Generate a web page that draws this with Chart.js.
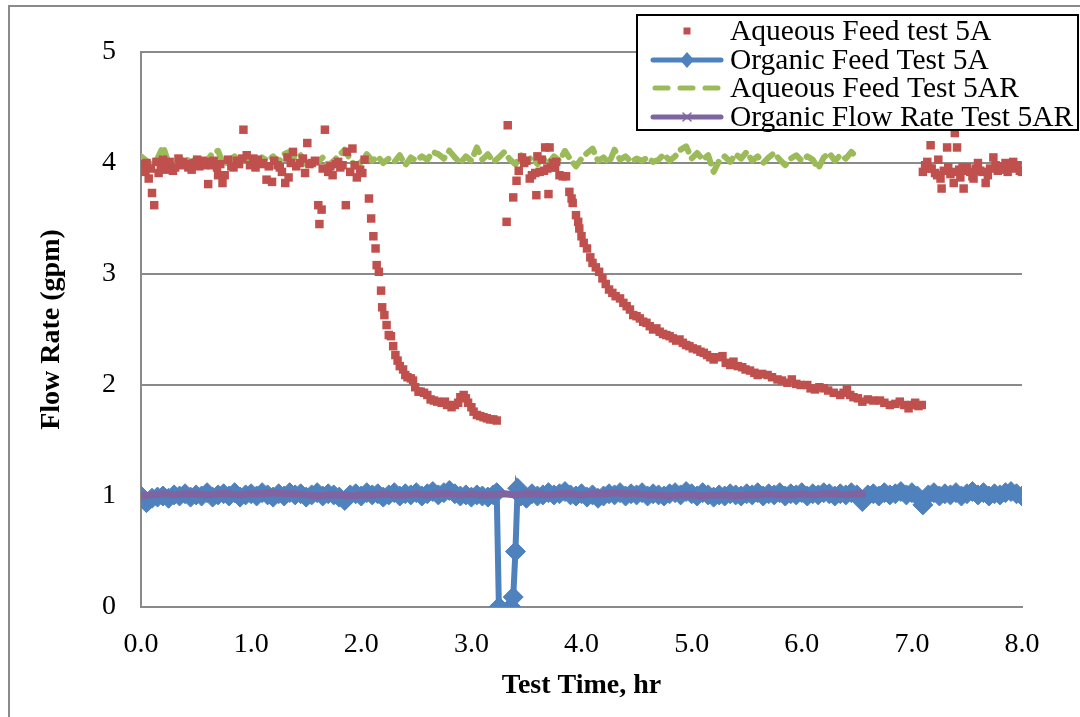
<!DOCTYPE html>
<html>
<head>
<meta charset="utf-8">
<script src="https://cdn.jsdelivr.net/npm/chart.js@4.4.1/dist/chart.umd.min.js"></script>
<style>
    html, body { margin: 0; padding: 0; background: #fff; overflow: hidden; }
    #frame {
        position: absolute; left: 8px; top: 5px; width: 1200px; height: 800px;
        border-left: 2px solid #8a8a8a; border-top: 2px solid #8a8a8a;
    }
    #chart { position: absolute; left: 0; top: 0; }
</style>
</head>
<body>
<div id="frame"></div>
<canvas id="chart" width="1080" height="717"></canvas>
<script>
// Aqueous Feed test 5A (red squares)
const aqTimeA = [
    0.00, 0.02, 0.04, 0.05, 0.07, 0.09, 0.10, 0.12, 0.14, 0.16, 0.18, 0.20, 0.22, 0.24, 0.26, 0.29, 0.31, 0.34, 0.36, 0.38,
    0.41, 0.43, 0.46, 0.48, 0.51, 0.53, 0.56, 0.58, 0.60, 0.61, 0.64, 0.66, 0.69, 0.70, 0.72, 0.74, 0.76, 0.79, 0.82, 0.84,
    0.87, 0.89, 0.92, 0.93, 0.96, 0.99, 1.02, 1.04, 1.06, 1.09, 1.11, 1.14, 1.16, 1.19, 1.21, 1.24, 1.26, 1.28, 1.31, 1.33,
    1.34, 1.36, 1.38, 1.41, 1.44, 1.47, 1.49, 1.51, 1.53, 1.55, 1.58, 1.61, 1.62, 1.64, 1.65, 1.67, 1.70, 1.72, 1.74, 1.77,
    1.79, 1.81, 1.83, 1.86, 1.87, 1.90, 1.92, 1.94, 1.96, 1.99, 2.01, 2.03,
    2.07, 2.09, 2.11, 2.13, 2.14, 2.16, 2.18, 2.19, 2.21, 2.23, 2.25, 2.27, 2.29, 2.31, 2.33, 2.35, 2.38, 2.40, 2.42, 2.45,
    2.47, 2.49, 2.52, 2.54, 2.57, 2.60, 2.63, 2.66, 2.69, 2.73, 2.76, 2.78, 2.82, 2.85, 2.88, 2.90, 2.93, 2.95, 2.97, 3.00,
    3.02, 3.05, 3.08, 3.11, 3.14, 3.17, 3.20, 3.23,
    3.32, 3.33, 3.38, 3.41, 3.43, 3.46, 3.48, 3.50, 3.53, 3.55, 3.58, 3.59, 3.60, 3.62, 3.64, 3.66, 3.67, 3.69, 3.70, 3.71,
    3.72, 3.74, 3.76, 3.77, 3.80, 3.83, 3.86,
    3.89, 3.91, 3.92, 3.95, 3.97, 3.98, 4.00, 4.02, 4.05, 4.08, 4.10, 4.13, 4.16, 4.19, 4.22, 4.25, 4.28, 4.31, 4.35, 4.38,
    4.41, 4.44, 4.47, 4.50, 4.53, 4.56, 4.59, 4.62, 4.65, 4.68, 4.71, 4.74, 4.77, 4.80, 4.83, 4.86, 4.89, 4.92, 4.95, 4.98,
    5.01, 5.05, 5.08, 5.11, 5.14, 5.17, 5.20, 5.24, 5.28, 5.31, 5.35, 5.38, 5.42, 5.46, 5.49, 5.53, 5.57, 5.60, 5.64, 5.69,
    5.73, 5.78, 5.82, 5.87, 5.91, 5.95, 5.99, 6.05, 6.08, 6.12, 6.16, 6.20, 6.24, 6.29, 6.35, 6.38, 6.41, 6.44, 6.47, 6.51,
    6.55, 6.60, 6.65, 6.71, 6.75, 6.80, 6.85, 6.89, 6.93, 6.97, 7.00, 7.03, 7.06, 7.09,
    7.10, 7.12, 7.14, 7.16, 7.17, 7.18, 7.21, 7.23, 7.24, 7.26, 7.27, 7.29, 7.32, 7.33, 7.35, 7.37, 7.38, 7.39, 7.41, 7.43,
    7.44, 7.46, 7.47, 7.49, 7.50, 7.53, 7.55, 7.56, 7.58, 7.60, 7.62, 7.64, 7.67, 7.69, 7.71, 7.74, 7.76, 7.78, 7.80, 7.83,
    7.85, 7.87, 7.90, 7.92, 7.94, 7.96, 7.98, 8.00
];
const aqFlowA = [
    3.97, 3.99, 3.92, 4.00, 3.86, 3.95, 3.73, 3.62, 4.01, 3.91, 3.96, 4.03, 3.94, 3.99, 4.01, 3.93, 3.96, 4.04, 3.98, 4.01,
    3.99, 3.96, 3.94, 4.00, 4.03, 3.97, 4.02, 3.98, 4.01, 3.81, 3.98, 4.02, 3.96, 3.89, 3.99, 3.82, 3.89, 4.03, 3.97, 3.96,
    4.02, 3.99, 4.04, 4.30, 4.07, 3.98, 4.04, 3.96, 4.03, 3.99, 4.00, 3.85, 3.97, 3.83, 4.02, 3.98, 3.96, 3.92, 3.82, 4.05,
    3.87, 4.00, 4.10, 3.97, 4.00, 4.04, 3.91, 4.18, 3.99, 4.00, 4.02, 3.62, 3.45, 3.58, 3.95, 4.30, 3.92, 3.97, 3.89, 3.99,
    4.01, 3.96, 3.98, 3.62, 4.10, 3.92, 4.13, 3.98, 3.87, 3.94, 3.91, 4.03,
    3.68, 3.50, 3.34, 3.23, 3.08, 3.02, 2.85, 2.70, 2.63, 2.54, 2.45, 2.44, 2.35, 2.27, 2.22, 2.17, 2.14, 2.09, 2.07, 2.06,
    2.04, 1.98, 1.94, 1.94, 1.93, 1.91, 1.87, 1.86, 1.85, 1.84, 1.85, 1.82, 1.80, 1.82, 1.84, 1.89, 1.91, 1.88, 1.84, 1.80,
    1.76, 1.73, 1.72, 1.71, 1.70, 1.69, 1.69, 1.68,
    3.47, 4.34, 3.69, 3.84, 3.93, 4.05, 4.00, 4.02, 3.86, 3.89, 3.91, 3.71, 4.06, 3.92, 4.03, 3.93, 4.14, 3.95, 3.72, 4.14,
    3.96, 4.00, 3.96, 4.01, 3.89, 3.88, 3.88,
    3.74, 3.68, 3.64, 3.53, 3.47, 3.41, 3.34, 3.28, 3.23, 3.15, 3.10, 3.06, 3.02, 2.96, 2.91, 2.86, 2.83, 2.80, 2.78, 2.74,
    2.71, 2.68, 2.63, 2.62, 2.60, 2.57, 2.56, 2.53, 2.50, 2.51, 2.48, 2.46, 2.45, 2.44, 2.42, 2.40, 2.41, 2.38, 2.36, 2.35,
    2.33, 2.32, 2.30, 2.29, 2.27, 2.25, 2.23, 2.25, 2.26, 2.20, 2.18, 2.21, 2.17, 2.16, 2.14, 2.13, 2.11, 2.09, 2.10, 2.09,
    2.07, 2.05, 2.04, 2.02, 2.05, 2.01, 2.00, 2.00, 1.97, 1.96, 1.98, 1.97, 1.95, 1.93, 1.91, 1.93, 1.96, 1.91, 1.89, 1.88,
    1.85, 1.87, 1.86, 1.86, 1.84, 1.82, 1.83, 1.85, 1.82, 1.79, 1.82, 1.84, 1.81, 1.82,
    3.92, 3.98, 4.01, 3.95, 4.16, 3.95, 3.91, 3.89, 4.03, 3.86, 3.77, 3.93, 4.14, 3.96, 3.90, 3.92, 3.82, 4.27, 4.14, 3.94,
    3.87, 3.96, 3.77, 3.93, 3.96, 3.92, 3.88, 3.86, 3.95, 4.00, 3.93, 3.92, 3.82, 3.89, 3.95, 4.05, 3.98, 3.93, 3.94, 3.97,
    4.00, 3.92, 3.96, 4.01, 3.95, 3.98, 3.93, 3.92
];

// Organic Feed Test 5A (blue diamonds)
const orgTimeA = [
    0.00, 0.05, 0.10, 0.15, 0.20, 0.25, 0.30, 0.35, 0.40, 0.45, 0.50, 0.55, 0.60, 0.65, 0.70, 0.75, 0.80, 0.85, 0.90, 0.95,
    1.00, 1.05, 1.10, 1.15, 1.20, 1.25, 1.30, 1.35, 1.40, 1.45, 1.50, 1.55, 1.60, 1.65, 1.70, 1.75, 1.80, 1.85, 1.90, 1.95,
    2.00, 2.05, 2.10, 2.15, 2.20, 2.25, 2.30, 2.35, 2.40, 2.45, 2.50, 2.55, 2.60, 2.65, 2.70, 2.75, 2.80, 2.85, 2.90, 2.95,
    3.00, 3.05, 3.10, 3.15, 3.20, 3.23, 3.25, 3.36, 3.38, 3.40, 3.42, 3.45, 3.50, 3.55, 3.60, 3.65, 3.70, 3.75, 3.80, 3.85,
    3.90, 3.95, 4.00, 4.05, 4.10, 4.15, 4.20, 4.25, 4.30, 4.35, 4.40, 4.45, 4.50, 4.55, 4.60, 4.65, 4.70, 4.75, 4.80, 4.85,
    4.90, 4.95, 5.00, 5.05, 5.10, 5.15, 5.20, 5.25, 5.30, 5.35, 5.40, 5.45, 5.50, 5.55, 5.60, 5.65, 5.70, 5.75, 5.80, 5.85,
    5.90, 5.95, 6.00, 6.05, 6.10, 6.15, 6.20, 6.25, 6.30, 6.35, 6.40, 6.45, 6.50, 6.55, 6.60, 6.65, 6.70, 6.75, 6.80, 6.85,
    6.90, 6.95, 7.00, 7.05, 7.10, 7.15, 7.20, 7.25, 7.30, 7.35, 7.40, 7.45, 7.50, 7.55, 7.60, 7.65, 7.70, 7.75, 7.80, 7.85,
    7.90, 7.95, 8.00
];
const orgFlowA = [
    1.00, 0.94, 0.98, 0.99, 1.00, 0.98, 1.01, 1.00, 1.02, 0.99, 1.01, 1.00, 1.03, 0.99, 1.01, 1.02, 1.00, 1.03, 0.99, 1.01,
    1.02, 1.00, 1.03, 1.01, 0.99, 1.02, 1.00, 1.03, 1.01, 1.02, 0.99, 1.01, 1.03, 1.00, 1.02, 1.01, 0.99, 0.96, 1.01, 1.02,
    1.00, 1.03, 1.01, 1.02, 0.99, 1.01, 1.03, 1.00, 1.02, 1.01, 1.03, 1.00, 1.02, 1.04, 1.01, 1.03, 1.05, 1.02, 1.00, 1.01,
    0.99, 1.01, 1.00, 0.99, 1.01, 1.03, 0.00, 0.00, 0.09, 0.50, 1.07, 1.00, 0.98, 1.02, 1.00, 1.01, 1.03, 1.01, 1.02, 1.04,
    1.01, 1.00, 1.02, 0.99, 1.01, 0.98, 1.00, 1.02, 1.01, 1.03, 1.00, 1.02, 1.01, 1.03, 1.00, 1.02, 1.01, 1.00, 1.02, 1.03,
    1.01, 1.04, 1.02, 1.00, 1.03, 1.01, 0.99, 1.01, 1.00, 1.02, 1.01, 1.00, 1.02, 1.01, 1.03, 1.00, 1.02, 1.01, 1.03, 1.00,
    1.02, 1.01, 1.03, 1.00, 1.02, 1.01, 1.03, 1.02, 1.00, 1.02, 1.01, 1.03, 1.01, 0.95, 1.01, 1.02, 1.00, 1.03, 1.01, 1.02,
    1.04, 1.01, 1.03, 1.00, 0.92, 1.01, 1.03, 1.00, 1.02, 1.01, 1.03, 1.00, 1.02, 1.04, 1.01, 1.03, 1.00, 1.02, 1.01, 1.03,
    1.04, 1.02, 1.00
];

// Aqueous Feed Test 5AR (green dashed)
const aqTimeAR = [
    0.00, 0.05, 0.10, 0.15, 0.20, 0.25, 0.30, 0.35, 0.40, 0.45, 0.50, 0.55, 0.60, 0.65, 0.70, 0.75, 0.80, 0.85, 0.90, 0.95,
    1.00, 1.05, 1.10, 1.15, 1.20, 1.25, 1.30, 1.35, 1.40, 1.45, 1.50, 1.55, 1.60, 1.65, 1.70, 1.75, 1.80, 1.85, 1.90, 1.95,
    2.00, 2.05, 2.10, 2.15, 2.20, 2.25, 2.30, 2.35, 2.40, 2.45, 2.50, 2.55, 2.60, 2.65, 2.70, 2.75, 2.80, 2.85, 2.90, 2.95,
    3.00, 3.05, 3.10, 3.15, 3.20, 3.25, 3.30, 3.35, 3.40, 3.45, 3.50, 3.55, 3.60, 3.65, 3.70, 3.75, 3.80, 3.85, 3.90, 3.95,
    4.00, 4.05, 4.10, 4.15, 4.20, 4.25, 4.30, 4.35, 4.40, 4.45, 4.50, 4.55, 4.60, 4.65, 4.70, 4.75, 4.80, 4.85, 4.90, 4.95,
    5.00, 5.05, 5.10, 5.15, 5.20, 5.25, 5.30, 5.35, 5.40, 5.45, 5.50, 5.55, 5.60, 5.65, 5.70, 5.75, 5.80, 5.85, 5.90, 5.95,
    6.00, 6.05, 6.10, 6.15, 6.20, 6.25, 6.30, 6.35, 6.40, 6.45, 6.50
];
const aqFlowAR = [
    4.06, 4.02, 3.98, 4.04, 4.15, 4.00, 3.96, 4.03, 4.05, 4.00, 4.04, 3.99, 4.02, 4.09, 4.11, 3.98, 4.02, 4.06, 4.00, 4.04,
    4.01, 3.98, 4.05, 4.02, 4.06, 4.01, 4.08, 4.10, 4.04, 4.07, 3.99, 4.03, 4.00, 4.05, 3.98, 4.02, 4.07, 4.12, 4.03, 3.97,
    4.01, 4.08, 4.02, 4.06, 4.00, 4.04, 4.01, 4.07, 3.98, 4.05, 4.02, 4.06, 4.03, 4.10, 4.08, 4.04, 4.11, 4.05, 4.00, 4.06,
    4.02, 4.14, 4.03, 4.08, 4.01, 4.05, 4.10, 4.03, 3.99, 4.07, 4.02, 4.05, 3.99, 4.04, 4.00, 4.06, 4.02, 4.11, 4.03, 3.97,
    4.04, 4.09, 4.13, 4.02, 4.05, 4.00, 4.12, 4.03, 4.06, 4.01, 4.04, 4.02, 4.05, 4.01, 4.03, 4.08, 4.02, 4.06, 4.12, 4.15,
    4.04, 4.09, 4.03, 4.07, 3.92, 4.02, 4.06, 4.01, 4.08, 4.04, 4.10, 4.02, 4.06, 4.00, 4.05, 4.09, 4.03, 3.98, 4.04, 4.07,
    4.02, 4.06, 4.03, 3.95, 4.05, 4.09, 4.02, 4.07, 4.04, 4.10, 4.05
];

// Organic Flow Rate Test 5AR (purple)
const orgTimeAR = [
    0.0, 0.1, 0.2, 0.3, 0.4, 0.5, 0.6, 0.7, 0.8, 0.9, 1.0, 1.1, 1.2, 1.3, 1.4, 1.5, 1.6, 1.7, 1.8, 1.9,
    2.0, 2.1, 2.2, 2.3, 2.4, 2.5, 2.6, 2.7, 2.8, 2.9, 3.0, 3.1, 3.2, 3.3, 3.4, 3.5, 3.6, 3.7, 3.8, 3.9,
    4.0, 4.1, 4.2, 4.3, 4.4, 4.5, 4.6, 4.7, 4.8, 4.9, 5.0, 5.1, 5.2, 5.3, 5.4, 5.5, 5.6, 5.7, 5.8, 5.9,
    6.0, 6.1, 6.2, 6.3, 6.4, 6.5, 6.55
];
const orgFlowAR = [
    1.00, 1.01, 1.02, 1.01, 1.02, 1.02, 1.01, 1.02, 1.02, 1.01, 1.02, 1.02, 1.03, 1.02, 1.02, 1.01, 1.00, 1.01, 1.01, 1.00,
    1.01, 1.01, 1.02, 1.01, 1.01, 1.02, 1.01, 1.02, 1.02, 1.01, 1.02, 1.01, 1.01, 1.02, 1.01, 1.02, 1.02, 1.01, 1.02, 1.02,
    1.01, 1.02, 1.02, 1.03, 1.02, 1.02, 1.01, 1.01, 1.00, 1.01, 1.01, 1.00, 1.01, 1.01, 1.00, 1.01, 1.01, 1.02, 1.01, 1.01,
    1.02, 1.01, 1.02, 1.02, 1.01, 1.02, 1.02
];

const seriesLabels = ['Aqueous Feed test 5A', 'Organic Feed Test 5A', 'Aqueous Feed Test 5AR', 'Organic Flow Rate Test 5AR'];
const yTicks = [0, 1, 2, 3, 4, 5];
const xTicks = [0, 1, 2, 3, 4, 5, 6, 7, 8];

const RED = '#c0504d';
const BLUE = '#4f81bd';
const GREEN = '#9bbb59';
const PURPLE = '#8064a2';
const GRID = '#8a8a8a';
const FONT = "'Liberation Serif', 'Times New Roman', serif";

function toPoints(xs, ys) {
    return xs.map((x, i) => ({ x: x, y: ys[i] }));
}

// Legend box drawn by hand, Excel style
const legendBox = {
    id: 'legendBox',
    afterDraw(chart) {
        const ctx = chart.ctx;
        const ds = chart.data.datasets;
        const left = 637, top = 15, w = 441, h = 115;
        ctx.save();
        ctx.fillStyle = '#fff';
        ctx.fillRect(left, top, w, h);
        ctx.strokeStyle = '#000';
        ctx.lineWidth = 2;
        ctx.strokeRect(left, top, w, h);

        const rows = [31, 60, 88, 117];
        const x0 = 653, x1 = 721, xc = 687;
        ctx.lineCap = 'round';

        // red square
        ctx.fillStyle = RED;
        ctx.fillRect(xc - 3.5, rows[0] - 3.5, 7, 7);

        // blue line + diamond
        ctx.strokeStyle = BLUE;
        ctx.lineWidth = 5;
        ctx.beginPath(); ctx.moveTo(x0, rows[1]); ctx.lineTo(x1, rows[1]); ctx.stroke();
        ctx.fillStyle = BLUE;
        ctx.beginPath();
        ctx.moveTo(xc - 7, rows[1]); ctx.lineTo(xc, rows[1] - 8);
        ctx.lineTo(xc + 7, rows[1]); ctx.lineTo(xc, rows[1] + 8);
        ctx.closePath(); ctx.fill();

        // green dashes
        ctx.strokeStyle = GREEN;
        ctx.setLineDash([13, 12]);
        ctx.beginPath(); ctx.moveTo(x0 + 2, rows[2]); ctx.lineTo(x1, rows[2]); ctx.stroke();
        ctx.setLineDash([]);

        // purple line + small cross
        ctx.strokeStyle = PURPLE;
        ctx.beginPath(); ctx.moveTo(x0, rows[3]); ctx.lineTo(x1, rows[3]); ctx.stroke();
        ctx.lineWidth = 1.5;
        ctx.beginPath();
        ctx.moveTo(xc - 4, rows[3] - 4); ctx.lineTo(xc + 4, rows[3] + 4);
        ctx.moveTo(xc + 4, rows[3] - 4); ctx.lineTo(xc - 4, rows[3] + 4);
        ctx.stroke();

        ctx.fillStyle = '#000';
        ctx.font = '29.5px ' + FONT;
        ctx.textBaseline = 'middle';
        ctx.textAlign = 'left';
        ds.forEach((d, i) => ctx.fillText(d.label, 730, rows[i] + 1));
        ctx.restore();
    }
};

Chart.defaults.font.family = FONT;
Chart.defaults.color = '#000';

new Chart(document.getElementById('chart'), {
    type: 'line',
    data: {
        datasets: [
            {
                label: seriesLabels[0],
                data: toPoints(aqTimeA, aqFlowA),
                showLine: false,
                pointStyle: 'rect',
                pointRadius: 6,
                pointBorderWidth: 0,
                pointBackgroundColor: RED,
                borderColor: RED,
                order: 0
            },
            {
                label: seriesLabels[1],
                data: toPoints(orgTimeA, orgFlowA),
                borderColor: BLUE,
                borderWidth: 6,
                pointStyle: 'rectRot',
                pointRadius: 10,
                pointBorderWidth: 1,
                pointBorderColor: BLUE,
                pointBackgroundColor: BLUE,
                order: 3
            },
            {
                label: seriesLabels[2],
                data: toPoints(aqTimeAR, aqFlowAR),
                borderColor: GREEN,
                borderWidth: 6,
                borderDash: [12, 8],
                borderCapStyle: 'round',
                borderJoinStyle: 'round',
                pointRadius: 0,
                order: 2
            },
            {
                label: seriesLabels[3],
                data: toPoints(orgTimeAR, orgFlowAR),
                borderColor: PURPLE,
                borderWidth: 7,
                borderCapStyle: 'round',
                pointStyle: 'crossRot',
                pointRadius: 4,
                pointBorderWidth: 1.5,
                pointBorderColor: PURPLE,
                order: 1
            }
        ]
    },
    options: {
        responsive: false,
        animation: false,
        devicePixelRatio: 1,
        layout: { padding: { left: 31, right: 58, top: 52, bottom: 10 } },
        elements: { line: { tension: 0 } },
        plugins: {
            legend: { display: false },
            tooltip: { enabled: false }
        },
        scales: {
            x: {
                type: 'linear',
                min: 0,
                max: 8,
                afterFit: (s) => { s.height = 100; },
                afterBuildTicks: (s) => { s.ticks = xTicks.map(v => ({ value: v })); },
                ticks: {
                    padding: 21,
                    font: { size: 28 },
                    callback: (v) => v.toFixed(1)
                },
                grid: { display: false, drawTicks: false },
                border: { display: true, color: GRID, width: 2 },
                title: {
                    display: true,
                    text: 'Test Time, hr',
                    font: { size: 28, weight: 'bold' }
                }
            },
            y: {
                min: 0,
                max: 5,
                afterFit: (s) => { s.width = 110; },
                afterBuildTicks: (s) => { s.ticks = yTicks.map(v => ({ value: v })); },
                ticks: {
                    padding: 25,
                    font: { size: 28 }
                },
                grid: { color: GRID, lineWidth: 2, drawTicks: false },
                border: { display: true, color: GRID, width: 2 },
                title: {
                    display: true,
                    text: 'Flow Rate (gpm)',
                    font: { size: 28, weight: 'bold' }
                }
            }
        }
    },
    plugins: [legendBox]
});
</script>
</body>
</html>
